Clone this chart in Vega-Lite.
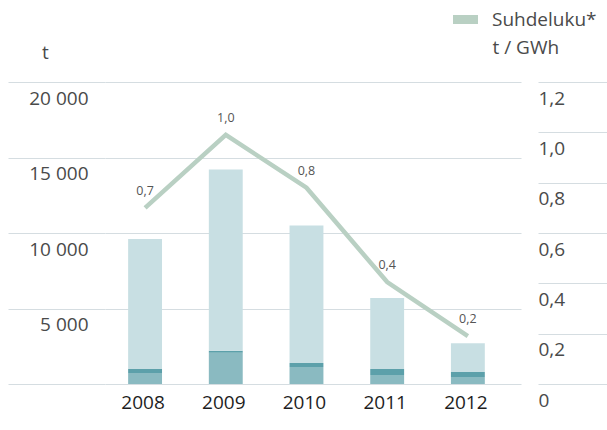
{
  "$schema": "https://vega.github.io/schema/vega-lite/v6.json",
  "width": 416,
  "height": 302,
  "autosize": "none",
  "padding": {"left": 105, "top": 82, "right": 86, "bottom": 46},
  "background": "white",
  "config": {
    "view": {"stroke": null},
    "font": "Open Sans",
    "axis": {"labelFont": "Open Sans", "titleFont": "Open Sans"}
  },
  "datasets": {
    "bars": [
      {"year": "2008", "segment": "A", "ord": 1, "value": 730},
      {"year": "2008", "segment": "B", "ord": 2, "value": 265},
      {"year": "2008", "segment": "C", "ord": 3, "value": 8605},
      {"year": "2009", "segment": "A", "ord": 1, "value": 2070},
      {"year": "2009", "segment": "B", "ord": 2, "value": 130},
      {"year": "2009", "segment": "C", "ord": 3, "value": 12000},
      {"year": "2010", "segment": "A", "ord": 1, "value": 1130},
      {"year": "2010", "segment": "B", "ord": 2, "value": 265},
      {"year": "2010", "segment": "C", "ord": 3, "value": 9105},
      {"year": "2011", "segment": "A", "ord": 1, "value": 600},
      {"year": "2011", "segment": "B", "ord": 2, "value": 400},
      {"year": "2011", "segment": "C", "ord": 3, "value": 4700},
      {"year": "2012", "segment": "A", "ord": 1, "value": 465},
      {"year": "2012", "segment": "B", "ord": 2, "value": 330},
      {"year": "2012", "segment": "C", "ord": 3, "value": 1905}
    ],
    "ratio": [
      {"year": "2008", "series": "Suhdeluku*", "ratio": 0.70, "label": "0,7"},
      {"year": "2009", "series": "Suhdeluku*", "ratio": 0.99, "label": "1,0"},
      {"year": "2010", "series": "Suhdeluku*", "ratio": 0.78, "label": "0,8"},
      {"year": "2011", "series": "Suhdeluku*", "ratio": 0.405, "label": "0,4"},
      {"year": "2012", "series": "Suhdeluku*", "ratio": 0.19, "label": "0,2"}
    ]
  },
  "layer": [
    {
      "data": {"name": "bars"},
      "mark": {"type": "bar"},
      "encoding": {
        "x": {
          "field": "year", "type": "ordinal", "title": null,
          "scale": {"paddingInner": 0.58, "paddingOuter": 0.3675, "align": 0.39, "round": false},
          "axis": {"domain": false, "ticks": false, "labelAngle": 0, "labelFont": "Open Sans", "labelFontSize": 19, "labelFontWeight": "normal", "labelColor": "#1e1e1e", "labelPadding": 24, "labelBaseline": "alphabetic", "labelOffset": -2}
        },
        "y": {
          "field": "value", "type": "quantitative", "stack": "zero",
          "scale": {"domain": [0, 20000], "nice": false},
          "axis": {
            "orient": "left", "values": [0, 5000, 10000, 15000, 20000],
            "domain": false, "grid": true, "gridColor": "#d5dde1", "gridWidth": 1,
            "tickSize": 97, "tickColor": "#d5dde1", "tickWidth": 1,
            "labelPadding": -80, "labelOffset": 22, "labelBaseline": "alphabetic", "labelAlign": "right",
            "labelFontSize": 19, "labelColor": "#4a4a4a", "labelOverlap": false, "labelFlush": false,
            "labelExpr": "datum.value == 0 ? '' : replace(format(datum.value, ','), ',', ' ')",
            "title": "t", "titleAngle": 0, "titleX": -60, "titleY": -24, "titleAlign": "center", "titleBaseline": "alphabetic",
            "titleFontSize": 19, "titleFontWeight": "normal", "titleColor": "#4a4a4a"
          }
        },
        "color": {
          "field": "segment", "type": "nominal",
          "scale": {"domain": ["A", "B", "C"], "range": ["#8abac1", "#5ca0aa", "#c8dfe3"]},
          "legend": null
        },
        "order": {"field": "ord", "type": "quantitative", "sort": "ascending"}
      }
    },
    {
      "data": {"name": "ratio"},
      "mark": {"type": "line", "strokeWidth": 4.5, "strokeJoin": "miter"},
      "encoding": {
        "x": {"field": "year", "type": "ordinal"},
        "y": {
          "field": "ratio", "type": "quantitative",
          "scale": {"domain": [0, 1.2], "nice": false},
          "axis": {
            "orient": "right", "values": [0, 0.2, 0.4, 0.6, 0.8, 1.0, 1.2],
            "offset": 17, "domain": false, "grid": false,
            "tickSize": 69, "tickColor": "#d5dde1", "tickWidth": 1,
            "labelPadding": -69, "labelOffset": 22, "labelBaseline": "alphabetic", "labelAlign": "left",
            "labelFontSize": 19, "labelColor": "#4a4a4a", "labelOverlap": false, "labelFlush": false,
            "labelExpr": "datum.value == 0 ? '0' : replace(format(datum.value, '.1f'), '.', ',')",
            "title": "t / GWh", "titleAngle": 0, "titleX": -46, "titleY": -29, "titleAlign": "left", "titleBaseline": "alphabetic",
            "titleFontSize": 19, "titleFontWeight": "normal", "titleColor": "#4a4a4a"
          }
        },
        "color": {
          "field": "series", "type": "nominal",
          "scale": {"domain": ["Suhdeluku*"], "range": ["#b9d0c3"]},
          "legend": {
            "orient": "none", "legendX": 348, "legendY": -75, "title": null,
            "symbolType": "M-1,-0.36L1,-0.36L1,0.36L-1,0.36Z", "symbolSize": 625,
            "symbolFillColor": "#b9d0c3", "symbolStrokeColor": "#b9d0c3", "symbolStrokeWidth": 0,
            "labelFontSize": 19, "labelColor": "#4a4a4a", "labelOffset": 14, "labelFont": "Open Sans"
          }
        }
      }
    },
    {
      "data": {"name": "ratio"},
      "mark": {"type": "text", "dy": -13, "baseline": "alphabetic", "align": "center", "fontSize": 12.5, "color": "#555555"},
      "encoding": {
        "x": {"field": "year", "type": "ordinal"},
        "y": {"field": "ratio", "type": "quantitative", "scale": {"domain": [0, 1.2], "nice": false}, "axis": null},
        "text": {"field": "label"}
      }
    }
  ],
  "resolve": {"scale": {"y": "independent", "color": "independent"}}
}
